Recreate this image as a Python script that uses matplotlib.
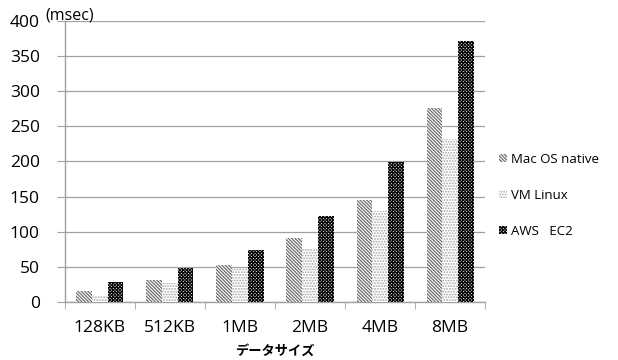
import matplotlib
matplotlib.use("Agg")
import matplotlib.pyplot as plt
import numpy as np

plt.rcParams['font.family'] = ['Open Sans', 'Noto Sans CJK JP', 'DejaVu Sans']
plt.rcParams['hatch.linewidth'] = 0.9

categories = ["128KB", "512KB", "1MB", "2MB", "4MB", "8MB"]
series_names = ["Mac OS native", "VM Linux", "AWS   EC2"]
mac_native = [16, 32, 52, 91, 145, 276]
vm_linux = [9, 27, 49, 75, 130, 232]
aws_ec2 = [28, 48, 74, 122, 199, 372]
y_ticks = [0, 50, 100, 150, 200, 250, 300, 350, 400]

fig = plt.figure(figsize=(6.18, 3.60), dpi=100)
ax = fig.add_axes([0.105, 0.161, 0.68, 0.781])

x = np.arange(len(categories))
w = 0.224
styles = [
    dict(hatch='\\' * 10, edgecolor='#6e6e6e', facecolor='white'),
    dict(hatch='.' * 6, edgecolor='#a8a8a8', facecolor='white'),
    dict(hatch='x' * 10, edgecolor='#0a0a0a', facecolor='white'),
]
for i, (vals, name, st) in enumerate(zip([mac_native, vm_linux, aws_ec2], series_names, styles)):
    ax.bar(x + (i - 1) * w, vals, width=w, label=name, linewidth=0, zorder=3, **st)

ax.set_xlim(-0.5, len(categories) - 0.5)
ax.set_ylim(0, 400)
ax.set_yticks(y_ticks)
ax.set_xticks(x)
ax.set_xticklabels(categories)
ax.set_xticks(np.arange(len(categories) + 1) - 0.5, minor=True)
ax.tick_params(axis='x', which='major', length=0, labelsize=12.5, pad=13)
ax.tick_params(axis='x', which='minor', length=5, color='#a0a0a0')
ax.tick_params(axis='y', length=6, color='#a0a0a0', labelsize=12.5, pad=12)
ax.grid(axis='y', color='#a0a0a0', linewidth=0.9, zorder=0)
for s in ['top', 'right']:
    ax.spines[s].set_visible(False)
for s in ['left', 'bottom']:
    ax.spines[s].set_color('#a0a0a0')
    ax.spines[s].set_linewidth(1.0)

ax.set_xlabel("データサイズ", fontsize=9.5, fontweight='bold', labelpad=6)
fig.text(0.074, 0.978, "(msec)", fontsize=11.5, ha='left', va='top')

leg = ax.legend(loc='center left', bbox_to_anchor=(1.005, 0.38), frameon=False,
                fontsize=9.5, handlelength=0.6, handleheight=0.6, handletextpad=0.3,
                labelspacing=1.75)

fig.savefig("out.png", dpi=100)
